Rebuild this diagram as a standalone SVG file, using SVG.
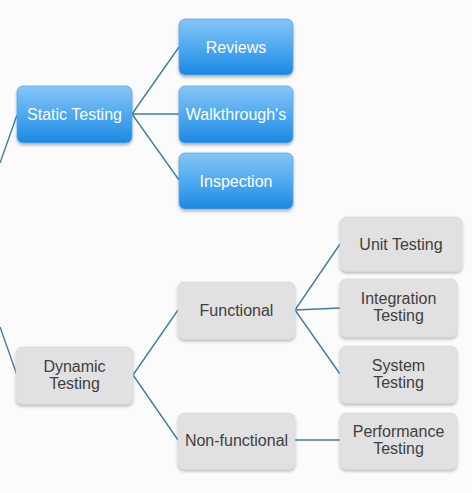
<svg xmlns="http://www.w3.org/2000/svg" width="472" height="493" viewBox="0 0 472 493">
<defs>
<linearGradient id="blue" x1="0" y1="0" x2="0" y2="1">
<stop offset="0" stop-color="#86c6f6"/>
<stop offset="0.55" stop-color="#4aa6ef"/>
<stop offset="1" stop-color="#1b88e3"/>
</linearGradient>
<filter id="sh" x="-10%" y="-10%" width="120%" height="130%">
<feDropShadow dx="0" dy="2" stdDeviation="1.6" flood-color="#000" flood-opacity="0.28"/>
</filter>
</defs>
<style>
.b rect{fill:url(#blue);stroke:#5aa8e6;stroke-width:0.8;filter:url(#sh)}
.g rect{fill:#e1e1e1;stroke:#d6d6d6;stroke-width:0.6;filter:url(#sh)}
.b text{fill:#ffffff;font-family:"Liberation Sans",Arial,sans-serif;font-size:16px;text-anchor:middle}
.g text{fill:#404040;font-family:"Liberation Sans",Arial,sans-serif;font-size:16px;text-anchor:middle}
#connectors line{stroke:#3f7fa3;stroke-width:1.4;fill:none}
</style>
<rect width="472" height="493" fill="#fbfbfb"/>
<g id="connectors">
<line x1="17" y1="115" x2="0" y2="163"/>
<line x1="0" y1="327" x2="17" y2="375"/>
<line x1="132" y1="114" x2="179" y2="47"/>
<line x1="132" y1="114" x2="179" y2="114"/>
<line x1="132" y1="114" x2="179" y2="180"/>
<line x1="133" y1="375" x2="178" y2="310"/>
<line x1="133" y1="375" x2="178" y2="440"/>
<line x1="295" y1="310" x2="340" y2="244"/>
<line x1="295" y1="310" x2="340" y2="308"/>
<line x1="295" y1="310" x2="340" y2="374"/>
<line x1="295" y1="440" x2="340" y2="440"/>
</g>
<g id="static" class="b"><rect x="17" y="86" width="115" height="57" rx="6"/><text x="74.5" y="120">Static Testing</text></g>
<g id="reviews" class="b"><rect x="179" y="19" width="114" height="56" rx="6"/><text x="236" y="53">Reviews</text></g>
<g id="walkthroughs" class="b"><rect x="179" y="86" width="114" height="57" rx="6"/><text x="236" y="120">Walkthrough's</text></g>
<g id="inspection" class="b"><rect x="179" y="153" width="114" height="56" rx="6"/><text x="236" y="187">Inspection</text></g>
<g id="dynamic" class="g"><rect x="16" y="347" width="117" height="57" rx="6"/><text x="74.5" y="372">Dynamic</text><text x="74.5" y="389">Testing</text></g>
<g id="functional" class="g"><rect x="178" y="282" width="117" height="57" rx="6"/><text x="236.5" y="316">Functional</text></g>
<g id="nonfunctional" class="g"><rect x="178" y="413" width="117" height="56" rx="6"/><text x="236.5" y="446">Non-functional</text></g>
<g id="unit" class="g"><rect x="340" y="217" width="122" height="54" rx="6"/><text x="401" y="250">Unit Testing</text></g>
<g id="integration" class="g"><rect x="340" y="279" width="117" height="58" rx="6"/><text x="398.5" y="304">Integration</text><text x="398.5" y="321">Testing</text></g>
<g id="system" class="g"><rect x="340" y="346" width="117" height="57" rx="6"/><text x="398.5" y="371">System</text><text x="398.5" y="388">Testing</text></g>
<g id="performance" class="g"><rect x="340" y="413" width="117" height="56" rx="6"/><text x="398.5" y="437">Performance</text><text x="398.5" y="454">Testing</text></g>
</svg>
